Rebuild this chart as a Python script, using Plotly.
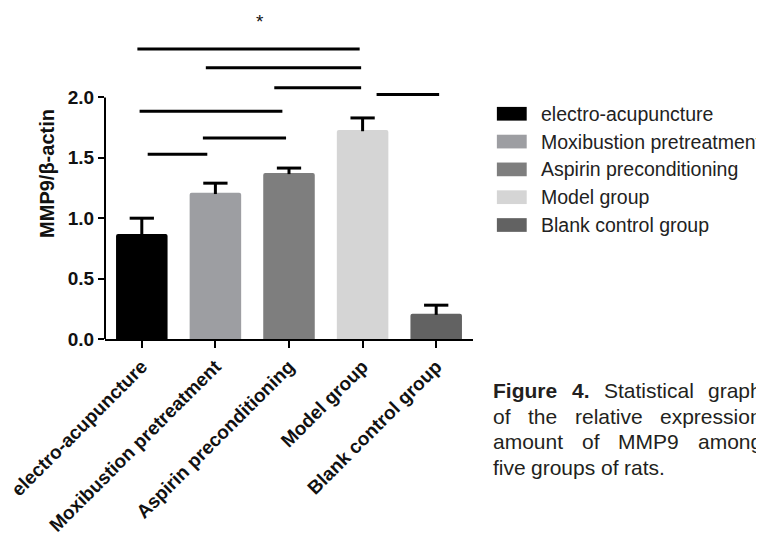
import plotly.graph_objects as go

# ---- data ----
categories = ["electro-acupuncture", "Moxibustion pretreatment", "Aspirin preconditioning",
              "Model group", "Blank control group"]
means = [0.87, 1.21, 1.375, 1.73, 0.21]
err_top = [1.00, 1.29, 1.415, 1.83, 0.28]
bar_colors = ["#000000", "#9d9ea2", "#7e7e7e", "#d5d5d5", "#626262"]
y_ticks = [0.0, 0.5, 1.0, 1.5, 2.0]
y_tick_labels = ["0.0", "0.5", "1.0", "1.5", "2.0"]

# significance bars (x start, x end in category units; y in data units)
sig_x0 = [-0.06, 0.87, 1.80, 3.19, -0.03, 0.83, 0.08]
sig_x1 = [2.96, 2.98, 2.98, 4.04, 1.91, 1.96, 0.89]
sig_y = [2.40, 2.245, 2.08, 2.025, 1.885, 1.665, 1.53]
star_x, star_y, star_text = 1.61, 2.63, "*"

# caption: (word, bold) per line; last line is not justified
caption_lines = [
    [("Figure", True), ("4.", True), ("Statistical", False), ("graph", False)],
    [("of", False), ("the", False), ("relative", False), ("expression", False)],
    [("amount", False), ("of", False), ("MMP9", False), ("among", False)],
    [("five", False), ("groups", False), ("of", False), ("rats.", False)],
]

# ---- geometry (page pixels; the page body adds an 8 px margin) ----
OFF = 8
W, H = 764 - OFF, 536 - OFF
L = 103 - OFF
R = W - (473 - OFF)
B = H - (346 - OFF)
T = 0
plot_w = W - L - R
plot_h = H - T - B
px_per_unit = 123.35
y_max = plot_h / px_per_unit


def px_x(px):
    return (px - OFF - L) / plot_w


def px_y(py):
    return (H - B - (py - OFF)) / plot_h


FONT = "Liberation Sans, Arial, sans-serif"

# approximate Arial/Liberation Sans advance widths (per 1000 em) for caption layout
REG = dict(zip("FigureSaticlphofvxnmMP94. ",
               [611, 222, 556, 556, 333, 556, 667, 556, 278, 222, 500, 222, 556, 556,
                556, 278, 500, 500, 556, 833, 833, 667, 556, 556, 278, 278]))
REG["s"] = 500
BOLD = dict(REG)
BOLD.update({"i": 278, "g": 611, "u": 611, "r": 389})


def text_w(word, bold, size):
    tab = BOLD if bold else REG
    return sum(tab.get(c, 556) for c in word) * size / 1000.0


fig = go.Figure()

fig.add_trace(go.Bar(
    x=list(range(len(categories))), y=means, width=0.70,
    marker=dict(color=bar_colors, line=dict(width=0), cornerradius=2),
    showlegend=False, hoverinfo="skip",
))

# error bars (upper only) built from data
cap = 0.165
ex, ey = [], []
for i, (m, e) in enumerate(zip(means, err_top)):
    ex += [i, i, None, i - cap, i + cap, None]
    ey += [m - 0.01, e, None, e, e, None]
fig.add_trace(go.Scatter(x=ex, y=ey, mode="lines", line=dict(color="black", width=3),
                         showlegend=False, hoverinfo="skip", cliponaxis=False))

# significance lines
sx, sy = [], []
for a, b, y in zip(sig_x0, sig_x1, sig_y):
    sx += [a, b, None]
    sy += [y, y, None]
fig.add_trace(go.Scatter(x=sx, y=sy, mode="lines", line=dict(color="black", width=3),
                         showlegend=False, hoverinfo="skip", cliponaxis=False))

annotations = [dict(x=star_x, y=star_y, xref="x", yref="y", text=star_text, showarrow=False,
                    font=dict(family=FONT, size=19, color="#111"))]

shapes = [dict(type="line", xref="paper", yref="y", x0=0, x1=0, y0=0, y1=2.0,
               line=dict(color="black", width=2))]

# legend (manual, swatches + labels)
leg_y0, leg_dy = 116, 28.4
for i, (name, col) in enumerate(zip(categories, bar_colors)):
    cy = leg_y0 + i * leg_dy
    shapes.append(dict(type="rect", xref="paper", yref="paper",
                       x0=px_x(497), x1=px_x(527), y0=px_y(cy + 7), y1=px_y(cy - 7),
                       fillcolor=col, line=dict(width=0)))
    annotations.append(dict(x=px_x(539), y=px_y(cy), xref="paper", yref="paper", text=name,
                            xanchor="left", yanchor="middle", showarrow=False,
                            font=dict(family=FONT, size=19.5, color="#222")))

# caption (justified between cap_left and cap_right)
cap_left, cap_right = 491, 761
cap_y0, cap_dy, cap_size = 398.5, 26.3, 21
for li, words in enumerate(caption_lines):
    cy = cap_y0 + li * cap_dy
    widths = [text_w(w, b, cap_size) for w, b in words]
    last = li == len(caption_lines) - 1
    if last:
        gap = REG[" "] * cap_size / 1000.0
    else:
        gap = (cap_right - cap_left - sum(widths)) / (len(words) - 1)
    x = cap_left
    for (w, b), ww in zip(words, widths):
        annotations.append(dict(x=px_x(x), y=px_y(cy), xref="paper", yref="paper",
                                text=f"<b>{w}</b>" if b else w,
                                xanchor="left", yanchor="middle", showarrow=False,
                                font=dict(family=FONT, size=cap_size, color="#231f20")))
        x += ww + gap

fig.update_layout(
    width=W, height=H,
    margin=dict(l=L, r=R, t=T, b=B, pad=0),
    paper_bgcolor="white", plot_bgcolor="white",
    xaxis=dict(range=[-0.5, 4.5], tickvals=list(range(len(categories))), ticktext=categories,
               tickangle=-45, showline=True, linecolor="black", linewidth=2,
               ticks="outside", ticklen=7, tickwidth=2, tickcolor="black",
               ticklabeloverflow="allow",
               tickfont=dict(family=FONT, size=19, color="#111", weight="bold"),
               showgrid=False, zeroline=False, fixedrange=True),
    yaxis=dict(range=[0, y_max], tickvals=y_ticks, ticktext=y_tick_labels,
               showline=False, ticks="outside", ticklen=6, tickwidth=2, tickcolor="black",
               tickfont=dict(family=FONT, size=19, color="#111", weight="bold"),
               title=dict(text="MMP9/β-actin", standoff=7,
                          font=dict(family=FONT, size=20, color="#111", weight="bold")),
               showgrid=False, zeroline=False, fixedrange=True),
    shapes=shapes,
    annotations=annotations,
)

fig.write_html("out.html")
